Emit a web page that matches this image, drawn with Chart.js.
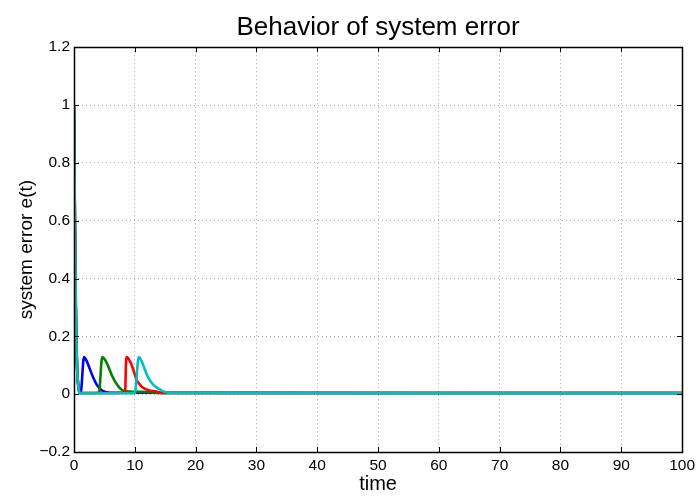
<!DOCTYPE html>
<html>
<head>
<meta charset="utf-8">
<script src="https://cdn.jsdelivr.net/npm/chart.js@4.4.1/dist/chart.umd.min.js"></script>
<style>
  html, body { margin: 0; padding: 0; background: #fff; }
  #wrap { width: 699px; height: 496px; }
</style>
</head>
<body>
<div id="wrap"><canvas id="errChart" width="699" height="496"></canvas></div>
<script>
// values
const blueTime  = [0, 0.15, 0.3, 0.5, 0.8, 1.1, 1.64, 2.08, 2.62, 3.17, 3.72, 4.26, 4.8, 6, 100];
const blueErr   = [1, 0.6, 0.3, 0.1, 0.015, 0.005, 0.128, 0.115, 0.086, 0.057, 0.034, 0.019, 0.01, 0.005, 0.004];

const greenTime = [0, 0.15, 0.3, 0.5, 0.8, 1.0, 4.1, 4.64, 5.08, 5.62, 6.17, 6.72, 7.26, 7.8, 8.5, 10, 12.5, 13.5, 100];
const greenErr  = [1, 0.6, 0.3, 0.1, 0.015, 0.004, 0.005, 0.128, 0.12, 0.097, 0.068, 0.045, 0.028, 0.016, 0.01, 0.008, 0.007, 0.004, 0.004];

const redTime   = [0, 0.15, 0.3, 0.5, 0.8, 1.0, 8.4, 8.6, 9.18, 9.73, 10.27, 10.8, 11.36, 12.2, 13.5, 14.5, 100];
const redErr    = [1, 0.6, 0.3, 0.1, 0.015, 0.004, 0.005, 0.128, 0.115, 0.086, 0.051, 0.034, 0.022, 0.014, 0.009, 0.004, 0.004];

const cyanTime  = [0, 0.15, 0.3, 0.5, 0.8, 1.0, 10.0, 10.65, 11.1, 11.64, 12.2, 13.0, 13.8, 14.9, 16, 100];
const cyanErr   = [1, 0.6, 0.3, 0.1, 0.015, 0.003, 0.003, 0.128, 0.115, 0.086, 0.057, 0.034, 0.02, 0.008, 0.004, 0.003];

const xTicks = [0, 10, 20, 30, 40, 50, 60, 70, 80, 90, 100];
const yTicks = [-0.2, 0, 0.2, 0.4, 0.6, 0.8, 1, 1.2];

const FONT = "'Liberation Sans', Arial, Helvetica, sans-serif";

function toPoints(ts, vs) {
  return ts.map((t, i) => ({ x: t, y: vs[i] }));
}

function series(ts, vs, color, order) {
  return {
    data: toPoints(ts, vs),
    borderColor: color,
    borderWidth: 2.6,
    pointRadius: 0,
    fill: false,
    cubicInterpolationMode: 'monotone',
    order
  };
}

// black box round the axes, with short inward ticks like matlab
const boxPlugin = {
  id: 'matlabBox',
  afterDraw(chart) {
    const { ctx, chartArea: a, scales } = chart;
    ctx.save();
    ctx.strokeStyle = '#000';
    ctx.lineWidth = 1;
    ctx.beginPath();
    for (const v of xTicks) {
      const px = Math.round(scales.x.getPixelForValue(v)) + 0.5;
      ctx.moveTo(px, a.bottom); ctx.lineTo(px, a.bottom - 5);
      ctx.moveTo(px, a.top); ctx.lineTo(px, a.top + 5);
    }
    for (const v of yTicks) {
      const py = Math.round(scales.y.getPixelForValue(v)) + 0.5;
      ctx.moveTo(a.left, py); ctx.lineTo(a.left + 5, py);
      ctx.moveTo(a.right, py); ctx.lineTo(a.right - 5, py);
    }
    ctx.stroke();
    ctx.lineWidth = 1.5;
    ctx.strokeRect(Math.round(a.left) + 0.5, Math.round(a.top) + 0.5,
      Math.round(a.right - a.left), Math.round(a.bottom - a.top));
    ctx.restore();
  }
};

new Chart(document.getElementById('errChart'), {
  type: 'line',
  data: {
    datasets: [
      series(blueTime, blueErr, '#0000ff', 4),
      series(greenTime, greenErr, '#008000', 3),
      series(redTime, redErr, '#ff0000', 2),
      series(cyanTime, cyanErr, '#00bfbf', 1)
    ]
  },
  options: {
    responsive: false,
    animation: false,
    layout: { padding: { left: 0, right: 15, top: 0, bottom: 0 } },
    plugins: {
      legend: { display: false },
      tooltip: { enabled: false },
      title: {
        display: true,
        fullSize: false,
        text: 'Behavior of system error',
        color: '#000',
        font: { family: FONT, size: 26, weight: 'normal', lineHeight: 1.2 },
        padding: { top: 12, bottom: 4 }
      }
    },
    scales: {
      x: {
        type: 'linear',
        min: 0,
        max: 100,
        afterFit(scale) { scale.height = 44; },
        afterBuildTicks(scale) { scale.ticks = xTicks.map(v => ({ value: v })); },
        ticks: {
          color: '#000',
          padding: 4,
          maxRotation: 0,
          font: { family: FONT, size: 15.5 },
          callback: v => String(v)
        },
        grid: { color: '#aaa', drawTicks: false, tickLength: 0 },
        border: { display: false, dash: [1, 3] },
        title: {
          display: true,
          text: 'time',
          color: '#000',
          font: { family: FONT, size: 20 },
          padding: { top: 0, bottom: 0 }
        }
      },
      y: {
        type: 'linear',
        min: -0.2,
        max: 1.2,
        afterFit(scale) { scale.width = 74; },
        afterBuildTicks(scale) { scale.ticks = yTicks.map(v => ({ value: v })); },
        ticks: {
          color: '#000',
          padding: 4,
          font: { family: FONT, size: 15.5 },
          callback: v => {
            const r = Math.round(v * 10) / 10;
            return r < 0 ? '\u2212' + Math.abs(r) : String(r);
          }
        },
        grid: { color: '#aaa', drawTicks: false, tickLength: 0 },
        border: { display: false, dash: [1, 3] },
        title: {
          display: true,
          text: 'system error e(t)',
          color: '#000',
          font: { family: FONT, size: 19 },
          padding: { top: 15, bottom: 0 }
        }
      }
    }
  },
  plugins: [boxPlugin]
});
</script>
</body>
</html>
